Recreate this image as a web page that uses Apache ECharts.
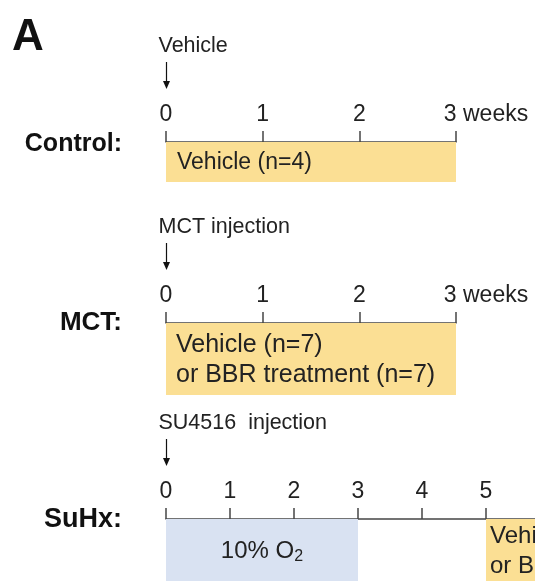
<!DOCTYPE html>
<html>
<head>
<meta charset="utf-8">
<script src="https://cdn.jsdelivr.net/npm/echarts@6/dist/echarts.min.js"></script>
<style>
  html, body { margin: 0; padding: 0; background: #fff; }
  #timeline { width: 535px; height: 581px; }
</style>
</head>
<body>
<div id="timeline"></div>
<script>
// data
var groupNames = ['Control:', 'MCT:', 'SuHx:'];
var injectionLabels = ['Vehicle', 'MCT injection', 'SU4516  injection'];
var injectionWeek = [0, 0, 0];
var shortWeeks = [0, 1, 2, 3];
var longWeeks = [0, 1, 2, 3, 4, 5];
var controlPhases = [[0, 3]];
var controlTexts = ['Vehicle (n=4)'];
var mctPhases = [[0, 3]];
var mctTexts = ['Vehicle (n=7)\nor BBR treatment (n=7)'];
var suhxPhases = [[0, 3], [5, 8]];
var suhxTexts = ['10% O{sub|2}', 'Vehicle (n=7)\nor BBR treatment (n=7)'];
var suhxKinds = ['hypoxia', 'drug'];

var FONT = '"Liberation Sans", Arial, sans-serif';
var kindColor = { drug: '#fbdf94', hypoxia: '#d9e2f2' };

// layout of the three rows
var rows = [
  { top: 142, height: 40, width: 290, max: 3, boxFont: 23, nameFont: 25, nameDy: 2 },
  { top: 323, height: 72, width: 290, max: 3, boxFont: 25, nameFont: 26, nameDy: 0 },
  { top: 519, height: 62, width: 369, max: 369 / 64, boxFont: 24, nameFont: 27, nameDy: 1 }
];

function phaseRenderer(texts, kinds, padLeft, fontSize) {
  return function (params, api) {
    var a = api.coord([api.value(0), 1]);
    var b = api.coord([api.value(1), 0]);
    var kind = kinds ? kinds[params.dataIndex] : 'drug';
    var centered = kind === 'hypoxia';
    return {
      type: 'group',
      children: [
        {
          type: 'rect',
          shape: { x: a[0], y: a[1], width: b[0] - a[0], height: b[1] - a[1] },
          style: { fill: kindColor[kind] }
        },
        {
          type: 'text',
          x: centered ? (a[0] + b[0]) / 2 : a[0] + padLeft,
          y: (a[1] + b[1]) / 2 + 1,
          style: {
            text: texts[params.dataIndex],
            fill: '#222',
            fontSize: fontSize,
            fontFamily: FONT,
            align: centered ? 'center' : 'left',
            verticalAlign: 'middle',
            lineHeight: 30,
            rich: {
              sub: { fontSize: 16, fontFamily: FONT, fill: '#222', padding: [12, 0, 0, 0] }
            }
          }
        }
      ]
    };
  };
}

function injectionRenderer(label) {
  return function (params, api) {
    var p = api.coord([api.value(0), 1]);
    var x = Math.round(p[0]) + 0.5, y = p[1];
    return {
      type: 'group',
      children: [
        {
          type: 'text', x: x - 8, y: y - 85,
          style: { text: label, fill: '#222', fontSize: 21.5, fontFamily: FONT, verticalAlign: 'bottom' }
        },
        {
          type: 'line',
          shape: { x1: x, y1: y - 80, x2: x, y2: y - 60 },
          style: { stroke: '#111', lineWidth: 1.2 }
        },
        {
          type: 'polygon',
          shape: { points: [[x - 3.5, y - 61], [x + 3.5, y - 61], [x, y - 53]] },
          style: { fill: '#111' }
        }
      ]
    };
  };
}

var grids = rows.map(function (r, i) {
  return i === 2
    ? { left: 166, right: 0, top: r.top, height: r.height }
    : { left: 166, width: r.width, top: r.top, height: r.height };
});

var xAxes = rows.map(function (r, i) {
  var weeks = i === 2 ? longWeeks : shortWeeks;
  return {
    type: 'value', gridIndex: i, position: 'top',
    min: 0, max: r.max,
    axisLine: { onZero: false, lineStyle: { color: '#454545', width: 1.5 } },
    axisTick: { show: true, length: 11, customValues: weeks, lineStyle: { color: '#454545', width: 1.5 } },
    splitLine: { show: false },
    axisLabel: {
      customValues: weeks,
      margin: 16,
      color: '#222',
      fontSize: 23,
      fontFamily: FONT,
      formatter: function (v) {
        if (i < 2 && v === 3) return '{wk|3 weeks}';
        return String(v);
      },
      rich: { wk: { fontSize: 23, fontFamily: FONT, color: '#222', padding: [0, 0, 0, 60] } }
    }
  };
});

var yAxes = rows.map(function (r, i) {
  return { type: 'value', gridIndex: i, min: 0, max: 1, show: false };
});

var series = [
  {
    type: 'custom', xAxisIndex: 0, yAxisIndex: 0,
    renderItem: phaseRenderer(controlTexts, null, 11, rows[0].boxFont),
    encode: { x: [0, 1] }, data: controlPhases, silent: true
  },
  {
    type: 'custom', xAxisIndex: 1, yAxisIndex: 1,
    renderItem: phaseRenderer(mctTexts, null, 10, rows[1].boxFont),
    encode: { x: [0, 1] }, data: mctPhases, silent: true
  },
  {
    type: 'custom', xAxisIndex: 2, yAxisIndex: 2,
    renderItem: phaseRenderer(suhxTexts, suhxKinds, 4, rows[2].boxFont),
    encode: { x: [0, 1] }, data: suhxPhases, silent: true
  }
];
injectionLabels.forEach(function (lab, i) {
  series.push({
    type: 'custom', xAxisIndex: i, yAxisIndex: i,
    renderItem: injectionRenderer(lab),
    encode: { x: 0 }, data: [[injectionWeek[i]]], silent: true, z: 5
  });
});

var graphics = [
  { type: 'text', left: 12, top: 16, style: { text: 'A', fill: '#111', font: 'bold 44px ' + FONT } }
];
groupNames.forEach(function (name, i) {
  graphics.push({
    type: 'text', x: 122, y: rows[i].top + rows[i].nameDy,
    style: { text: name, fill: '#111', font: 'bold ' + rows[i].nameFont + 'px ' + FONT, align: 'right', verticalAlign: 'middle' }
  });
});

var myChart = echarts.init(document.getElementById('timeline'));
myChart.setOption({
  animation: false,
  backgroundColor: '#fff',
  grid: grids,
  xAxis: xAxes,
  yAxis: yAxes,
  series: series,
  graphic: graphics
});
</script>
</body>
</html>
